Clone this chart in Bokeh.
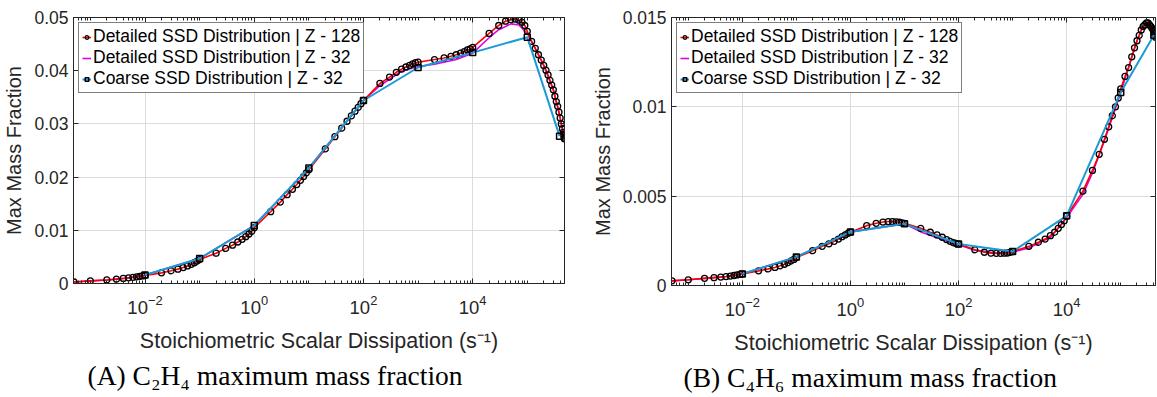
from bokeh.plotting import figure
from bokeh.models import (FixedTicker, LogAxis, LinearAxis, Legend, LegendItem,
                          Title, CustomJSTickFormatter, Range1d)
from bokeh.layouts import row
from bokeh.embed import file_html
from bokeh.resources import INLINE

# ---------------- data ----------------
x_main = [5e-4,
          1e-3, 2e-3, 3e-3, 4e-3, 5e-3, 6e-3, 7e-3, 8e-3, 9e-3,
          1e-2, 2e-2, 3e-2, 4e-2, 5e-2, 6e-2, 7e-2, 8e-2, 9e-2,
          0.1, 0.2, 0.3, 0.4, 0.5, 0.6, 0.7, 0.8, 0.9,
          1, 2, 3, 4, 5, 6, 7, 8, 9,
          10, 20, 30, 40, 50, 60, 70, 80, 90,
          100, 200, 300, 400, 500, 600, 700, 800, 900,
          1e3, 2e3, 3e3, 4e3, 5e3, 6e3, 7e3, 8e3, 9e3,
          1e4, 2e4, 3e4, 4e4, 5e4, 6e4, 7e4, 8e4, 9e4]

c2h4_main = [0.00028,
             0.00050, 0.00067, 0.00082, 0.00095, 0.00106, 0.00116, 0.00125, 0.00134, 0.00142,
             0.00150, 0.00200, 0.00240, 0.00270, 0.00300, 0.00330, 0.00360, 0.00390, 0.00420,
             0.00450, 0.00570, 0.00660, 0.00720, 0.00780, 0.00830, 0.00880, 0.00930, 0.00980,
             0.01050, 0.01350, 0.01530, 0.01670, 0.01770, 0.01860, 0.01940, 0.02010, 0.02080,
             0.02140, 0.02530, 0.02760, 0.02920, 0.03050, 0.03150, 0.03240, 0.03310, 0.03380,
             0.03440, 0.03760, 0.03880, 0.03970, 0.04030, 0.04070, 0.04100, 0.04130, 0.04150,
             0.04160, 0.04210, 0.04240, 0.04270, 0.04300, 0.04330, 0.04360, 0.04390, 0.04410,
             0.04440, 0.04700, 0.04850, 0.04930, 0.04960, 0.04970, 0.04950, 0.04910, 0.04850]
c2h4_tail_x = [1e5, 1.2e5, 1.4e5, 1.6e5, 1.8e5, 2e5, 2.2e5, 2.4e5, 2.6e5, 2.8e5, 3e5,
               3.2e5, 3.4e5, 3.6e5, 3.8e5, 4e5, 4.2e5, 4.4e5, 4.55e5, 4.65e5, 4.72e5, 4.76e5]
c2h4_tail = [0.0474, 0.0455, 0.0442, 0.0430, 0.0420, 0.0410, 0.0401, 0.0392, 0.0382, 0.0373, 0.0364,
             0.0352, 0.0342, 0.0333, 0.0322, 0.0311, 0.0300, 0.0291, 0.0284, 0.0279, 0.0275, 0.0272]

c2h4_z32_x = [5e-4, 1e-3, 2e-3, 5e-3, 1e-2, 0.1, 1, 10, 100, 200, 500, 1e3, 2e3, 5e3, 1e4,
              2e4, 3e4, 5e4, 7e4, 1e5, 1.5e5, 2e5, 3e5, 4e5, 4.76e5]
c2h4_z32 = [0.00028, 0.0005, 0.00067, 0.00106, 0.0016, 0.0047, 0.0109, 0.0217, 0.0344, 0.0372,
            0.0399, 0.0408, 0.0412, 0.0421, 0.0433, 0.0462, 0.0477, 0.0488, 0.0486, 0.0470,
            0.0436, 0.0410, 0.0364, 0.0311, 0.0272]

c2h4_coarse_x = [1e-2, 0.1, 1, 10, 100, 1e3, 1e4, 1e5, 3.9e5]
c2h4_coarse = [0.0016, 0.0047, 0.0109, 0.0217, 0.0344, 0.0406, 0.0434, 0.0463, 0.0277]

c4h6_main = [0.00026,
             0.00032, 0.00040, 0.00044, 0.00047, 0.00050, 0.00053, 0.00056, 0.00059, 0.00062,
             0.00065, 0.00082, 0.00093, 0.00101, 0.00110, 0.00119, 0.00128, 0.00137, 0.00146,
             0.00156, 0.00195, 0.00219, 0.00233, 0.00247, 0.00260, 0.00273, 0.00283, 0.00292,
             0.00298, 0.00335, 0.00348, 0.00355, 0.00358, 0.00358, 0.00356, 0.00354, 0.00351,
             0.00348, 0.00320, 0.00298, 0.00283, 0.00270, 0.00257, 0.00247, 0.00240, 0.00235,
             0.00232, 0.00200, 0.00186, 0.00181, 0.00180, 0.00180, 0.00181, 0.00182, 0.00185,
             0.00190, 0.00219, 0.00242, 0.00260, 0.00279, 0.00298, 0.00320, 0.00341, 0.00362,
             0.00388, 0.00528, 0.00644, 0.00734, 0.00818, 0.00888, 0.00950, 0.01000, 0.01050]
c4h6_tail_x = [1e5, 1.2e5, 1.4e5, 1.6e5, 1.8e5, 2e5, 2.2e5, 2.4e5, 2.6e5, 2.8e5, 3e5,
               3.2e5, 3.4e5, 3.6e5, 3.8e5, 4e5, 4.1e5, 4.2e5, 4.3e5, 4.4e5]
c4h6_tail = [0.0110, 0.0117, 0.0122, 0.0128, 0.0133, 0.0137, 0.0140, 0.0143, 0.0145, 0.0146, 0.0147,
             0.0147, 0.0146, 0.0145, 0.0144, 0.0143, 0.0142, 0.0141, 0.0140, 0.0139]

c4h6_z32_x = [5e-4, 1e-3, 2e-3, 5e-3, 1e-2, 0.1, 1, 10, 20, 50, 100, 200, 500, 1e3, 2e3, 5e3,
              1e4, 2e4, 3e4, 5e4, 7e4, 1e5, 1.5e5, 2e5, 2.5e5, 3e5, 3.5e5, 4e5, 4.4e5]
c4h6_z32 = [0.00026, 0.00032, 0.0004, 0.0005, 0.00065, 0.0016, 0.0030, 0.00345, 0.0030, 0.00258,
            0.00228, 0.00198, 0.00182, 0.00188, 0.00210, 0.0027, 0.0038, 0.0051, 0.0063, 0.0081,
            0.0094, 0.0108, 0.0125, 0.0137, 0.0144, 0.0147, 0.0146, 0.0142, 0.0139]

c4h6_coarse_x = [1e-2, 0.1, 1, 10, 100, 1e3, 1e4, 1e5, 4.1e5]
c4h6_coarse = [0.00065, 0.0016, 0.0030, 0.00345, 0.00232, 0.0019, 0.0039, 0.0108, 0.0140]

x_major_ticks = [1e-2, 1, 1e2, 1e4]
c2h4_yticks = [0, 0.01, 0.02, 0.03, 0.04, 0.05]
c4h6_yticks = [0, 0.005, 0.01, 0.015]

labels = ["Detailed SSD Distribution | Z - 128",
          "Detailed SSD Distribution | Z - 32",
          "Coarse SSD Distribution | Z - 32"]
xlabel = "Stoichiometric Scalar Dissipation (s\u207b\u00b9)"
ylabel = "Max Mass Fraction"
captions = ["(A) C\u2082H\u2084 maximum mass fraction",
            "(B) C\u2084H\u2086 maximum mass fraction"]

# ---------------- styling ----------------
RED = "#ff0000"
MAG = "#e000e0"
BLUE = "#1b9ad6"
AX = "#262626"
SANS = "Liberation Sans"

minor = [k * 10.0 ** n for n in range(-4, 6) for k in range(1, 10)
         if not (k == 1 and n in (-2, 0, 2, 4))]


def make(xr, ymax, yticks, xd, yd, xm, ym, xc, yc, caption,
         fw, fh, mbl, mbr, mbt, cap_off):
    p = figure(x_axis_type="log", x_range=Range1d(*xr), y_range=Range1d(0, ymax),
               frame_width=fw, frame_height=fh,
               min_border_left=mbl, min_border_right=mbr, min_border_top=mbt,
               min_border_bottom=397 - mbt - fh,
               output_backend="svg", toolbar_location=None,
               background_fill_color="white", border_fill_color="white")
    p.outline_line_color = AX
    p.outline_line_width = 1

    xt = FixedTicker(ticks=x_major_ticks, minor_ticks=minor)
    yt = FixedTicker(ticks=yticks)
    yfmt = CustomJSTickFormatter(code="return tick == 0 ? '0' : String(parseFloat(tick.toFixed(4)));")
    empty = CustomJSTickFormatter(code="return '';")

    for ax in (p.xaxis[0], p.yaxis[0]):
        ax.axis_line_color = AX
        ax.major_tick_line_color = AX
        ax.minor_tick_line_color = AX
        ax.major_tick_in = 5
        ax.major_tick_out = 0
        ax.minor_tick_in = 3
        ax.minor_tick_out = 0
        ax.major_label_text_font = SANS
        ax.major_label_text_color = AX
        ax.axis_label_text_font = SANS
        ax.axis_label_text_font_style = "normal"
        ax.axis_label_text_color = AX

    p.xaxis[0].ticker = xt
    p.xaxis[0].major_label_text_font_size = "18.5px"
    p.xaxis[0].major_label_standoff = 11
    p.xaxis[0].axis_label = xlabel
    p.xaxis[0].axis_label_text_font_size = "21.5px"
    p.xaxis[0].axis_label_standoff = 12
    p.yaxis[0].ticker = yt
    p.yaxis[0].formatter = yfmt
    p.yaxis[0].minor_tick_line_color = None
    p.yaxis[0].major_label_text_font_size = "17.5px"
    p.yaxis[0].major_label_standoff = 5
    p.yaxis[0].axis_label = ylabel
    p.yaxis[0].axis_label_text_font_size = "20px"
    p.yaxis[0].axis_label_standoff = 6

    top = LogAxis(ticker=xt, formatter=empty, major_tick_in=5, major_tick_out=0,
                  minor_tick_in=3, minor_tick_out=0, axis_line_color=AX,
                  major_tick_line_color=AX, minor_tick_line_color=AX,
                  major_label_standoff=0, major_label_text_font_size="1px")
    right = LinearAxis(ticker=yt, formatter=empty, major_tick_in=5, major_tick_out=0,
                       minor_tick_line_color=None, axis_line_color=AX,
                       major_tick_line_color=AX, major_label_standoff=0,
                       major_label_text_font_size="1px")
    p.add_layout(top, "above")
    p.add_layout(right, "right")

    p.xgrid.ticker = xt
    p.ygrid.ticker = yt
    p.xgrid.grid_line_color = "#dcdcdc"
    p.ygrid.grid_line_color = "#dcdcdc"

    m_line = p.line(xm, ym, line_color=MAG, line_width=1.6)
    r_line = p.line(xd, yd, line_color=RED, line_width=1.6)
    r_pts = p.scatter(xd, yd, marker="circle", size=6, line_color="black",
                      fill_color=None, line_width=1.3)
    b_line = p.line(xc, yc, line_color=BLUE, line_width=2)
    b_pts = p.scatter(xc, yc, marker="square", size=6, line_color="black",
                      fill_color=None, line_width=1.5)

    legend = Legend(items=[LegendItem(label=labels[0], renderers=[r_line, r_pts]),
                           LegendItem(label=labels[1], renderers=[m_line]),
                           LegendItem(label=labels[2], renderers=[b_line, b_pts])],
                    location="top_left", margin=5, padding=3, spacing=0,
                    glyph_width=9, glyph_height=20, label_height=20, label_standoff=2,
                    label_text_font=SANS, label_text_font_size="17.5px",
                    label_text_color="black", border_line_color="black",
                    border_line_width=1, background_fill_color="white",
                    background_fill_alpha=1)
    p.add_layout(legend)

    cap = Title(text=caption, align="left", offset=cap_off, standoff=4,
                text_font="Liberation Serif", text_font_size="27.5px",
                text_font_style="normal", text_color="black")
    p.add_layout(cap, "below")
    return p


p1 = make((4.9e-4, 4.8e5), 0.05, c2h4_yticks,
          x_main + c2h4_tail_x, c2h4_main + c2h4_tail,
          c2h4_z32_x, c2h4_z32, c2h4_coarse_x, c2h4_coarse, captions[0],
          491, 266, 73, 11, 17, 14)
p2 = make((4.9e-4, 4.4e5), 0.015, c4h6_yticks,
          x_main + c4h6_tail_x, c4h6_main + c4h6_tail,
          c4h6_z32_x, c4h6_z32, c4h6_coarse_x, c4h6_coarse, captions[1],
          484, 268, 96, 2, 15, 12)

layout = row(p1, p2)
open("out.html", "w").write(file_html(layout, INLINE))
